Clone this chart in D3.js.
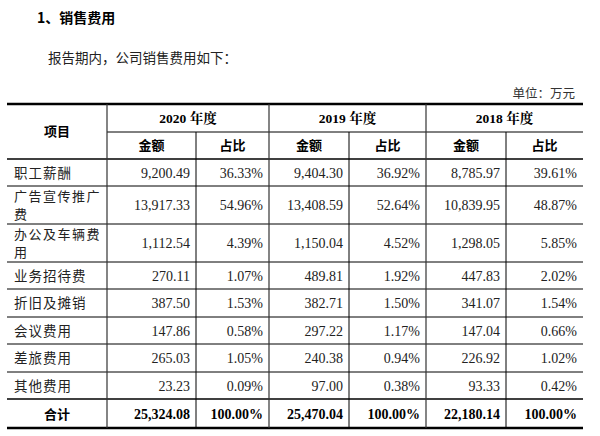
<!DOCTYPE html>
<html><head><meta charset="utf-8">
<script src="https://cdn.jsdelivr.net/npm/d3@7"></script>
<style>body{margin:0;background:#fff}</style></head>
<body><svg id="c" width="600" height="436"></svg>
<script>
const years = ["2020 年度","2019 年度","2018 年度"];
const categories = [["职工薪酬"],["广告宣传推广","费"],["办公及车辆费","用"],["业务招待费"],["折旧及摊销"],["会议费用"],["差旅费用"],["其他费用"]];
const amt2020 = ["9,200.49","13,917.33","1,112.54","270.11","387.50","147.86","265.03","23.23"];
const pct2020 = ["36.33%","54.96%","4.39%","1.07%","1.53%","0.58%","1.05%","0.09%"];
const amt2019 = ["9,404.30","13,408.59","1,150.04","489.81","382.71","297.22","240.38","97.00"];
const pct2019 = ["36.92%","52.64%","4.52%","1.92%","1.50%","1.17%","0.94%","0.38%"];
const amt2018 = ["8,785.97","10,839.95","1,298.05","447.83","341.07","147.04","226.92","93.33"];
const pct2018 = ["39.61%","48.87%","5.85%","2.02%","1.54%","0.66%","1.02%","0.42%"];
const totals = ["25,324.08","100.00%","25,470.04","100.00%","22,180.14","100.00%"];

const svg = d3.select("#c");
const serif = "'Liberation Serif','Noto Serif CJK SC','Noto Sans CJK SC',serif";
const cjk = "'Noto Sans CJK SC',sans-serif";
const colX = [7,107,196,269,349,426,506,583];
const rowY = [159,186,224,262,289,317,344,372,399,428];

svg.append("text").attr("x",37).attr("y",23).attr("font-family",cjk).attr("font-weight","bold").attr("font-size",14).text("1、销售费用");
svg.append("text").attr("x",48).attr("y",63).attr("font-family",cjk).attr("font-size",13.5).attr("fill","#222").text("报告期内，公司销售费用如下：");
svg.append("text").attr("x",575).attr("y",98).attr("text-anchor","end").attr("font-family",cjk).attr("font-size",12.5).attr("fill","#333").text("单位：万元");

const g = svg.append("g");
g.append("line").attr("x1",7).attr("x2",583).attr("y1",104).attr("y2",104).attr("stroke","#000").attr("stroke-width",2.5);
g.append("line").attr("x1",107).attr("x2",583).attr("y1",132).attr("y2",132).attr("stroke","#000");
rowY.forEach((y,i)=>{
  const w = i===rowY.length-1?2.5:(i===0||i===rowY.length-2?1.5:1);
  g.append("line").attr("x1",7).attr("x2",583).attr("y1",y).attr("y2",y).attr("stroke","#000").attr("stroke-width",w);
});
[107,269,426].forEach(x=>g.append("line").attr("x1",x).attr("x2",x).attr("y1",104).attr("y2",428).attr("stroke","#333").attr("stroke-width",1.2));
[196,349,506].forEach(x=>g.append("line").attr("x1",x).attr("x2",x).attr("y1",132).attr("y2",428).attr("stroke","#000"));

svg.append("text").attr("x",57).attr("y",136).attr("text-anchor","middle").attr("font-family",cjk).attr("font-weight","bold").attr("font-size",13).text("项目");
years.forEach((y,i)=>{
  const x0=colX[1+2*i], x1=colX[3+2*i];
  svg.append("text").attr("x",(x0+x1)/2).attr("y",123).attr("text-anchor","middle").attr("font-family",serif).attr("font-weight","bold").attr("font-size",13.5).text(y);
  ["金额","占比"].forEach((h,j)=>{
    svg.append("text").attr("x",(colX[1+2*i+j]+colX[2+2*i+j])/2).attr("y",150).attr("text-anchor","middle").attr("font-family",cjk).attr("font-weight","bold").attr("font-size",13).text(h);
  });
});

const cols=[amt2020,pct2020,amt2019,pct2019,amt2018,pct2018];
categories.forEach((c,r)=>{
  const top=rowY[r], bot=rowY[r+1], mid=(top+bot)/2;
  if(c.length===1){
    svg.append("text").attr("x",14).attr("y",mid+5).attr("font-family",cjk).attr("font-size",13.5).attr("fill","#222").attr("letter-spacing",1).text(c[0]);
  } else {
    c.forEach((t,k)=>svg.append("text").attr("x",14).attr("y",mid-4+k*18).attr("font-family",cjk).attr("font-size",13).attr("fill","#222").attr("letter-spacing",1.5).text(t));
  }
  cols.forEach((arr,j)=>{
    svg.append("text").attr("x",colX[j+2]-6).attr("y",mid+5).attr("text-anchor","end").attr("font-family",serif).attr("font-size",14).attr("fill","#222").text(arr[r]);
  });
});
const tm=(rowY[8]+rowY[9])/2;
svg.append("text").attr("x",57).attr("y",tm+5).attr("text-anchor","middle").attr("font-family",cjk).attr("font-weight","bold").attr("font-size",13).text("合计");
totals.forEach((t,j)=>svg.append("text").attr("x",colX[j+2]-6).attr("y",tm+5).attr("text-anchor","end").attr("font-family",serif).attr("font-weight","bold").attr("font-size",14).text(t));
</script></body></html>
